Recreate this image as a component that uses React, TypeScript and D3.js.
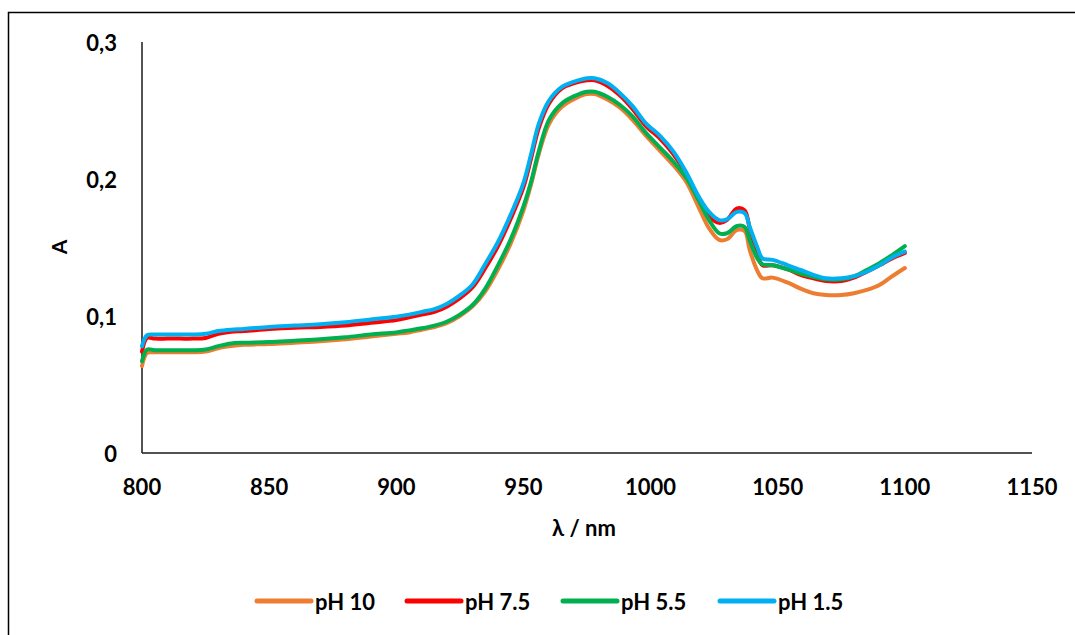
import React from "react";
import * as d3 from "d3";

// wavelengths (nm) shared by all four spectra
const wavelengths = [
  800, 802, 805, 810, 815, 820, 825, 830, 835, 840, 850, 860, 870, 880, 890,
  900, 905, 910, 915, 920, 925, 930, 935, 940, 945, 950, 953, 956, 960, 965,
  970, 975, 978, 983, 988, 993, 998, 1004, 1009, 1014, 1019, 1023, 1027, 1030,
  1034, 1037, 1039, 1042, 1044, 1048, 1054, 1059, 1064, 1069, 1075, 1080, 1085,
  1090, 1095, 1100,
];

const ph10 = [
  0.0635, 0.073, 0.0735, 0.0735, 0.0735, 0.0735, 0.074, 0.0765, 0.078, 0.079,
  0.0795, 0.0805, 0.0815, 0.083, 0.085, 0.087, 0.088, 0.09, 0.092, 0.095, 0.1,
  0.107, 0.118, 0.134, 0.153, 0.177, 0.196, 0.218, 0.24, 0.2525, 0.2585, 0.262,
  0.262, 0.258, 0.252, 0.243, 0.232, 0.22, 0.21, 0.198, 0.179, 0.164, 0.1555,
  0.156, 0.1628, 0.162, 0.148, 0.133, 0.1275, 0.128, 0.1243, 0.12, 0.1166,
  0.1153, 0.1153, 0.1166, 0.119, 0.1226, 0.129, 0.135,
];

const ph75 = [
  0.074, 0.084, 0.0835, 0.0835, 0.0835, 0.0835, 0.084, 0.087, 0.0885, 0.089,
  0.0905, 0.0915, 0.092, 0.093, 0.095, 0.097, 0.099, 0.101, 0.103, 0.107, 0.113,
  0.121, 0.135, 0.151, 0.171, 0.194, 0.215, 0.237, 0.255, 0.266, 0.27, 0.272,
  0.272, 0.268, 0.261, 0.251, 0.239, 0.229, 0.218, 0.204, 0.185, 0.173, 0.168,
  0.17, 0.1786, 0.177, 0.164, 0.146, 0.137, 0.137, 0.134, 0.13, 0.1275, 0.1255,
  0.1255, 0.128, 0.1323, 0.137, 0.142, 0.146,
];

const ph55 = [
  0.067, 0.0755, 0.075, 0.075, 0.075, 0.075, 0.0755, 0.078, 0.08, 0.0805, 0.081,
  0.082, 0.083, 0.0845, 0.0865, 0.088, 0.0895, 0.091, 0.093, 0.096, 0.101, 0.108,
  0.12, 0.137, 0.156, 0.18, 0.198, 0.22, 0.243, 0.255, 0.2605, 0.2637, 0.2637,
  0.26, 0.254, 0.2455, 0.234, 0.2224, 0.2126, 0.201, 0.184, 0.17, 0.1604, 0.1604,
  0.1657, 0.165, 0.155, 0.142, 0.1377, 0.137, 0.134, 0.131, 0.1287, 0.1268,
  0.1268, 0.129, 0.1336, 0.1385, 0.1445, 0.151,
];

const ph15 = [
  0.078, 0.086, 0.0865, 0.0865, 0.0865, 0.0865, 0.087, 0.089, 0.09, 0.0905,
  0.092, 0.093, 0.094, 0.0955, 0.0975, 0.0995, 0.101, 0.103, 0.105, 0.109, 0.115,
  0.123, 0.138, 0.154, 0.174, 0.197, 0.218, 0.24, 0.257, 0.267, 0.271, 0.2735,
  0.2735, 0.27, 0.2626, 0.253, 0.241, 0.231, 0.22, 0.205, 0.187, 0.176, 0.17,
  0.1706, 0.176, 0.175, 0.165, 0.15, 0.142, 0.141, 0.137, 0.1336, 0.13, 0.1275,
  0.1275, 0.129, 0.1323, 0.137, 0.1428, 0.147,
];

const seriesNames = ["pH 10", "pH 7.5", "pH 5.5", "pH 1.5"];
const seriesValues = [ph10, ph75, ph55, ph15];
const seriesColors = ["#ED7D31", "#FF0000", "#00B050", "#00B0F0"];

const xTicks = [800, 850, 900, 950, 1000, 1050, 1100, 1150];
const yTicks = [0, 0.1, 0.2, 0.3];

const W = 1075;
const H = 635;
const font = "Lato, 'Open Sans', sans-serif";

export default function App() {
  const x = d3.scaleLinear().domain([800, 1150]).range([142, 1032]);
  const y = d3.scaleLinear().domain([0, 0.3]).range([453, 42]);

  const line = d3
    .line<number>()
    .x((_, i) => x(wavelengths[i]))
    .y((d) => y(d))
    .curve(d3.curveCatmullRom.alpha(0.5));

  const yFmt = (v: number) => (v === 0 ? "0" : d3.format(".1f")(v).replace(".", ","));

  // legend positions
  const legendX = [257, 407, 563, 720];
  const legendY = 601;

  return (
    <svg
      width={W}
      height={H}
      style={{ position: "absolute", left: 0, top: 0, background: "#fff" }}
      fontFamily={font}
    >
      <rect x={8.5} y={12.5} width={1200} height={800} fill="#fff" stroke="#000" strokeWidth={1.5} />

      {/* axes */}
      <line x1={x(800)} x2={x(800)} y1={y(0.3)} y2={y(0)} stroke="#1a1a1a" strokeWidth={1.5} />
      <line x1={x(800)} x2={x(1150)} y1={y(0)} y2={y(0)} stroke="#1a1a1a" strokeWidth={1.5} />

      {xTicks.map((t) => (
        <text key={t} x={x(t)} y={495} textAnchor="middle" fontSize={22} fontWeight="bold">
          {t}
        </text>
      ))}
      {yTicks.map((t) => (
        <text key={t} x={117} y={y(t)} textAnchor="end" dominantBaseline="central" fontSize={22} fontWeight="bold">
          {yFmt(t)}
        </text>
      ))}

      <text
        transform="translate(58,247) rotate(-90)"
        textAnchor="middle"
        dominantBaseline="central"
        fontSize={21}
        fontWeight="bold"
      >
        A
      </text>
      <text x={584} y={536} textAnchor="middle" fontSize={22} fontWeight="bold">
        λ / nm
      </text>

      {/* spectra */}
      {seriesValues.map((vals, i) => (
        <path
          key={seriesNames[i]}
          d={line(vals) || ""}
          fill="none"
          stroke={seriesColors[i]}
          strokeWidth={4}
          strokeLinejoin="round"
          strokeLinecap="round"
        />
      ))}

      {/* legend */}
      {seriesNames.map((n, i) => (
        <g key={n}>
          <line
            x1={legendX[i]}
            x2={legendX[i] + 54}
            y1={legendY}
            y2={legendY}
            stroke={seriesColors[i]}
            strokeWidth={5}
            strokeLinecap="round"
          />
          <text x={legendX[i] + 58} y={legendY} dominantBaseline="central" fontSize={22} fontWeight="bold">
            {n}
          </text>
        </g>
      ))}
    </svg>
  );
}
